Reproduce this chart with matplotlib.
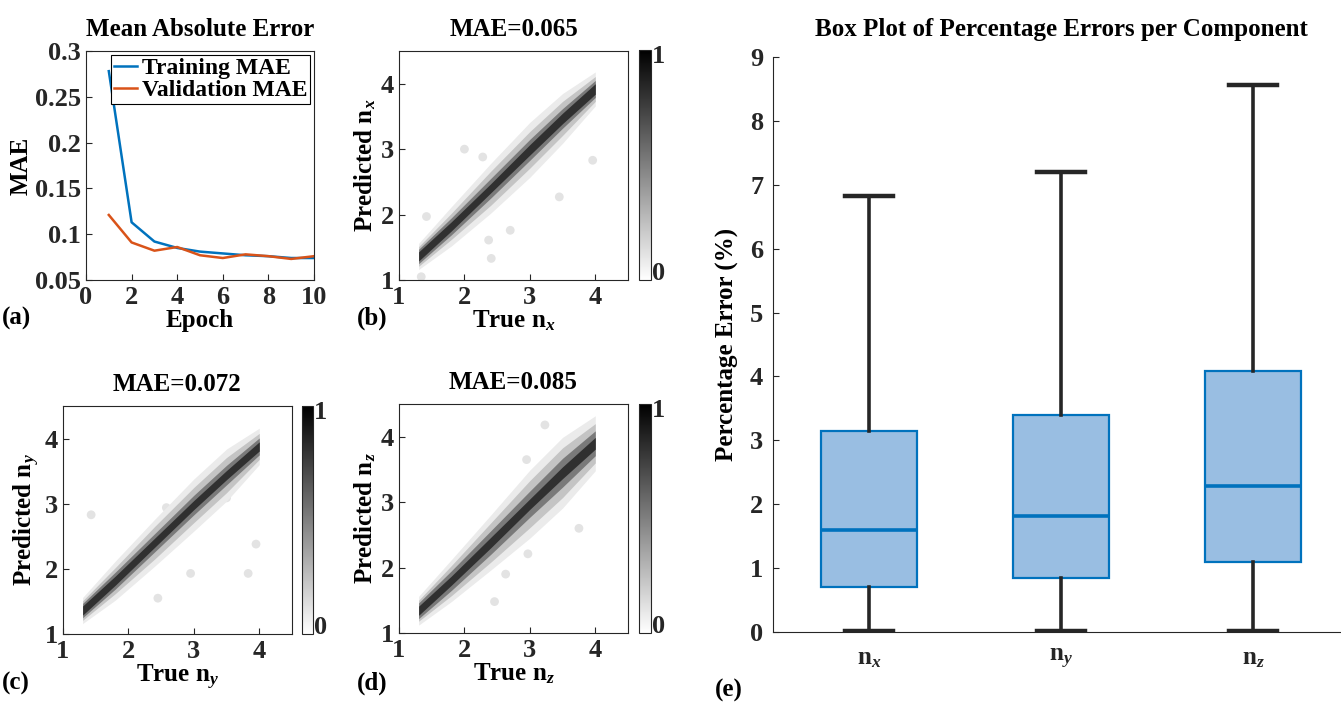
import numpy as np
import matplotlib
matplotlib.use("Agg")
import matplotlib.pyplot as plt
from matplotlib.cm import ScalarMappable
from matplotlib.colors import Normalize

plt.rcParams['font.family'] = ['Liberation Serif', 'DejaVu Serif']
plt.rcParams['font.weight'] = 'bold'
plt.rcParams['axes.labelweight'] = 'bold'
plt.rcParams['axes.titleweight'] = 'bold'
plt.rcParams['mathtext.fontset'] = 'custom'
plt.rcParams['mathtext.rm'] = 'Liberation Serif:bold'
plt.rcParams['mathtext.it'] = 'Liberation Serif:italic:bold'
plt.rcParams['xtick.direction'] = 'in'
plt.rcParams['ytick.direction'] = 'in'

# ---- data ----
epochs = [1, 2, 3, 4, 5, 6, 7, 8, 9, 10]
train_mae = [0.278, 0.113, 0.092, 0.085, 0.081, 0.079, 0.077, 0.076, 0.074, 0.074]
val_mae = [0.121, 0.091, 0.082, 0.086, 0.077, 0.074, 0.078, 0.076, 0.073, 0.076]

scatter_titles = ["MAE=0.065", "MAE=0.072", "MAE=0.085"]
comp_names = ["x", "y", "z"]

# density bands (true value knots, band centre, half widths for 4 density levels)
knots = [1.3, 1.8, 2.4, 3.0, 3.5, 4.0]
centre_x = [1.36, 1.82, 2.40, 2.99, 3.47, 3.92]
centre_y = [1.36, 1.82, 2.40, 2.98, 3.44, 3.88]
centre_z = [1.34, 1.80, 2.38, 2.97, 3.45, 3.90]
halo_x = [0.20, 0.30, 0.38, 0.42, 0.38, 0.26]
halo_y = [0.20, 0.30, 0.36, 0.40, 0.40, 0.28]
halo_z = [0.22, 0.32, 0.42, 0.52, 0.54, 0.42]
light_x = [0.15, 0.20, 0.26, 0.28, 0.26, 0.19]
light_y = [0.15, 0.20, 0.25, 0.27, 0.27, 0.20]
light_z = [0.16, 0.23, 0.30, 0.36, 0.38, 0.30]
mid_x = [0.11, 0.13, 0.15, 0.16, 0.15, 0.13]
mid_y = [0.11, 0.13, 0.14, 0.15, 0.15, 0.13]
mid_z = [0.12, 0.15, 0.18, 0.20, 0.22, 0.19]
core_x = [0.07, 0.07, 0.07, 0.08, 0.08, 0.08]
core_y = [0.07, 0.07, 0.07, 0.07, 0.07, 0.07]
core_z = [0.07, 0.07, 0.08, 0.08, 0.09, 0.09]

# scattered outliers
out_tx = [2.0, 2.28, 3.45, 3.96, 2.37, 2.41, 2.70, 1.42, 1.34]
out_px = [3.0, 2.88, 2.27, 2.83, 1.61, 1.33, 1.76, 1.97, 1.05]
out_ty = [1.43, 3.5, 3.95, 3.83, 2.95, 2.45, 2.58]
out_py = [2.83, 3.09, 2.38, 1.93, 1.93, 1.55, 2.94]
out_tz = [3.75, 3.23, 2.46, 2.95, 2.63, 2.97]
out_pz = [2.60, 4.18, 1.48, 3.65, 1.90, 2.21]

box_labels = [r"n$_{\mathit{x}}$", r"n$_{\mathit{y}}$", r"n$_{\mathit{z}}$"]
box_q1 = [0.70, 0.85, 1.10]
box_med = [1.59, 1.82, 2.29]
box_q3 = [3.15, 3.39, 4.09]
box_lo = [0.02, 0.02, 0.02]
box_hi = [6.82, 7.20, 8.56]

W, H = 1341, 713
fig = plt.figure(figsize=(W / 100, H / 100), dpi=100)

def rect(l, t, r, b):
    return [l / W, 1 - b / H, (r - l) / W, (b - t) / H]

dark = '#262626'
fs = 18   # labels / titles
ft = 19   # tick labels

def style(ax):
    for s in ax.spines.values():
        s.set_color(dark)
        s.set_linewidth(0.8)
    ax.tick_params(colors=dark, labelsize=ft, length=4, width=0.8)
    ax.tick_params(axis='x', pad=4)
    for lab in ax.get_xticklabels() + ax.get_yticklabels():
        lab.set_fontweight('bold')

# ---- (a) ----
ax = fig.add_axes(rect(86, 51, 314, 280))
ax.plot(epochs, train_mae, color='#0072BD', lw=1.8, label='Training MAE')
ax.plot(epochs, val_mae, color='#D95319', lw=1.8, label='Validation MAE')
ax.set_xlim(0, 10)
ax.set_ylim(0.05, 0.3)
ax.set_xticks([0, 2, 4, 6, 8, 10])
ax.set_yticks([0.05, 0.1, 0.15, 0.2, 0.25, 0.3])
ax.set_yticklabels(['0.05', '0.1', '0.15', '0.2', '0.25', '0.3'])
ax.set_xlabel('Epoch', fontsize=fs, labelpad=0)
ax.set_ylabel('MAE', fontsize=fs, labelpad=2)
ax.set_title('Mean Absolute Error', fontsize=fs, pad=11)
leg = ax.legend(loc='upper right', fontsize=fs - 1, fancybox=False, framealpha=1,
                edgecolor='black', borderaxespad=0.15, borderpad=0.12,
                handlelength=1.0, handletextpad=0.2, labelspacing=0.02)
leg.get_frame().set_linewidth(0.8)
style(ax)

# ---- scatter density panels ----
panels = [
    (rect(399, 51, 628, 280), rect(639, 50, 651, 280), centre_x, halo_x, light_x, mid_x, core_x, out_tx, out_px),
    (rect(63, 406, 292, 634), rect(302, 406, 313, 634), centre_y, halo_y, light_y, mid_y, core_y, out_ty, out_py),
    (rect(399, 404, 628, 633), rect(639, 404, 651, 633), centre_z, halo_z, light_z, mid_z, core_z, out_tz, out_pz),
]
shades = ['#ebebeb', '#c4c4c4', '#7a7a7a', '#303030']
for i, (pos, cpos, cen, h0, h1, h2, h3, otx, opy) in enumerate(panels):
    ax = fig.add_axes(pos)
    c = np.array(cen)
    ax.scatter(otx, opy, s=40, color='#e3e3e3', edgecolors='none', zorder=1)
    for hw, col in zip([h0, h1, h2, h3], shades):
        hw = np.array(hw)
        ax.fill_between(knots, c - hw, c + hw, color=col, lw=0, zorder=2)
    ax.set_xlim(1, 4.5)
    ax.set_ylim(1, 4.5)
    ax.set_xticks([1, 2, 3, 4])
    ax.set_yticks([1, 2, 3, 4])
    n = comp_names[i]
    ax.set_xlabel(r'True n$_{\mathit{%s}}$' % n, fontsize=fs, labelpad=0)
    ax.set_ylabel(r'Predicted n$_{\mathit{%s}}$' % n, fontsize=fs, labelpad=2)
    ax.set_title(scatter_titles[i], fontsize=fs, pad=11)
    style(ax)
    cax = fig.add_axes(cpos)
    cb = fig.colorbar(ScalarMappable(norm=Normalize(0, 1), cmap='gray_r'), cax=cax)
    cb.set_ticks([])
    cb.outline.set_linewidth(0.8)
    cb.outline.set_edgecolor(dark)
    cax.text(1.1, 1.02, '1', transform=cax.transAxes, fontsize=ft, va='top', ha='left', color=dark)
    cax.text(1.1, -0.02, '0', transform=cax.transAxes, fontsize=ft, va='bottom', ha='left', color=dark)

# ---- (e) box plot ----
ax = fig.add_axes(rect(773, 57, 1349, 632))
stats = []
for i in range(3):
    stats.append(dict(med=box_med[i], q1=box_q1[i], q3=box_q3[i],
                      whislo=box_lo[i], whishi=box_hi[i], label=box_labels[i]))
ax.bxp(stats, positions=[1, 2, 3], widths=0.5, capwidths=0.25, showfliers=False,
       patch_artist=True,
       boxprops=dict(facecolor='#99BEE2', edgecolor='#0072BD', lw=1.6),
       medianprops=dict(color='#0072BD', lw=2.6),
       whiskerprops=dict(color=dark, lw=2.6),
       capprops=dict(color=dark, lw=3.2))
ax.set_xlim(0.5, 3.5)
ax.set_ylim(0, 9)
ax.set_yticks(range(10))
ax.spines['top'].set_visible(False)
ax.spines['right'].set_visible(False)
ax.set_ylabel('Percentage Error (%)', fontsize=fs, labelpad=8)
ax.set_title('Box Plot of Percentage Errors per Component', fontsize=fs, pad=15)
style(ax)
ax.tick_params(axis='x', length=0, pad=11, labelsize=fs)
ax.tick_params(axis='y', pad=7)

# panel letters
for lbl, x, y in [('(a)', 2, 318), ('(b)', 357, 318), ('(c)', 2, 683), ('(d)', 357, 683), ('(e)', 715, 690)]:
    fig.text(x / W, 1 - y / H, lbl, fontsize=fs, va='center', ha='left', color='black')

fig.savefig('out.png', dpi=100)
